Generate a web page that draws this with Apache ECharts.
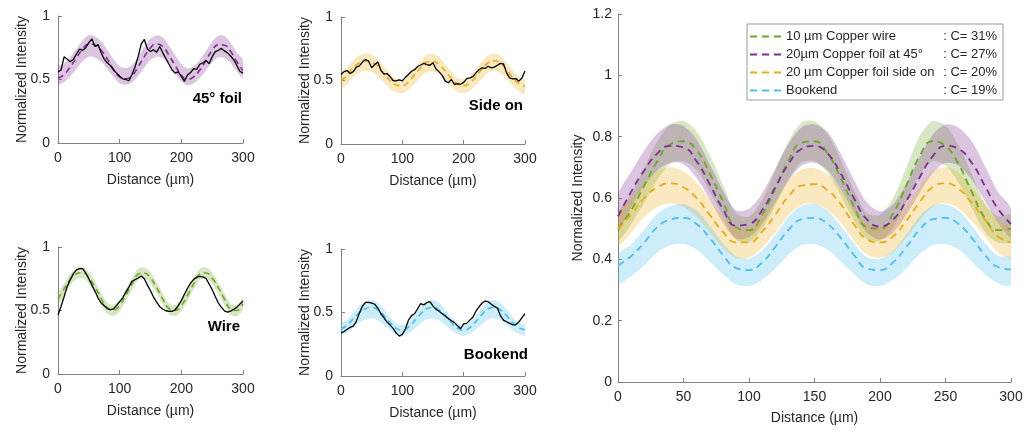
<!DOCTYPE html>
<html>
<head>
<meta charset="utf-8">
<title>Normalized intensity profiles</title>
<script src="https://cdn.jsdelivr.net/npm/echarts@6/dist/echarts.min.js"></script>
<style>
  html, body { margin: 0; padding: 0; background: #fff; }
  #chart { width: 1028px; height: 432px; }
</style>
</head>
<body>
<div id="chart"></div>
<script>
// ---- sampling grids (µm) ----
const distance10 = [0,10,20,30,40,50,60,70,80,90,100,110,120,130,140,150,160,170,180,190,200,210,220,230,240,250,260,270,280,290,300];
const distance5 = [0,5,10,15,20,25,30,35,40,45,50,55,60,65,70,75,80,85,90,95,100,105,110,115,120,125,130,135,140,145,150,155,160,165,170,175,180,185,190,195,200,205,210,215,220,225,230,235,240,245,250,255,260,265,270,275,280,285,290,295,300];

// ---- tick values ----
const smallXTicks = [0, 100, 200, 300];
const smallYTicks = [0, 0.5, 1];
const bigXTicks = [0, 50, 100, 150, 200, 250, 300];
const bigYTicks = [0, 0.2, 0.4, 0.6, 0.8, 1, 1.2];

// ---- 45° foil panel ----
const foilMeasured = [0.56,0.575,0.68,0.66,0.64,0.66,0.70,0.74,0.73,0.75,0.79,0.82,0.76,0.775,0.71,0.66,0.63,0.61,0.575,0.55,0.525,0.505,0.50,0.49,0.54,0.60,0.68,0.78,0.815,0.74,0.72,0.735,0.715,0.76,0.71,0.665,0.62,0.575,0.55,0.56,0.525,0.485,0.535,0.555,0.585,0.58,0.62,0.63,0.65,0.625,0.68,0.72,0.73,0.745,0.725,0.71,0.685,0.655,0.61,0.565,0.55];
const foilFit = [0.51,0.54,0.6,0.67,0.74,0.78,0.77,0.73,0.66,0.58,0.52,0.505,0.53,0.6,0.68,0.75,0.78,0.76,0.69,0.61,0.535,0.5,0.52,0.575,0.65,0.73,0.775,0.77,0.72,0.64,0.57];
const foilUpper = [0.6,0.625,0.68,0.745,0.81,0.848,0.84,0.8,0.735,0.66,0.605,0.59,0.615,0.68,0.755,0.82,0.848,0.83,0.765,0.69,0.62,0.588,0.605,0.655,0.725,0.8,0.845,0.84,0.79,0.715,0.65];
const foilLower = [0.46,0.48,0.525,0.585,0.645,0.68,0.672,0.64,0.58,0.52,0.47,0.458,0.476,0.53,0.595,0.655,0.68,0.665,0.61,0.545,0.485,0.455,0.47,0.512,0.57,0.635,0.675,0.672,0.63,0.565,0.51];

// ---- side on panel ----
const sideMeasured = [0.547,0.57,0.578,0.555,0.57,0.605,0.615,0.645,0.665,0.652,0.60,0.626,0.645,0.58,0.55,0.555,0.53,0.50,0.497,0.505,0.497,0.525,0.547,0.573,0.585,0.61,0.622,0.635,0.625,0.62,0.64,0.59,0.568,0.54,0.495,0.482,0.508,0.47,0.476,0.47,0.485,0.515,0.52,0.53,0.56,0.585,0.60,0.595,0.612,0.60,0.605,0.62,0.635,0.63,0.56,0.52,0.512,0.515,0.495,0.52,0.575];
const sideFit = [0.5,0.54,0.6,0.64,0.655,0.645,0.61,0.555,0.5,0.465,0.46,0.49,0.545,0.6,0.645,0.65,0.625,0.575,0.515,0.47,0.46,0.48,0.53,0.59,0.64,0.655,0.635,0.585,0.525,0.475,0.455];
const sideUpper = [0.555,0.595,0.657,0.698,0.715,0.705,0.668,0.61,0.553,0.515,0.51,0.542,0.6,0.657,0.705,0.71,0.684,0.63,0.568,0.52,0.51,0.532,0.585,0.647,0.698,0.715,0.694,0.64,0.578,0.525,0.505];
const sideLower = [0.435,0.47,0.525,0.562,0.575,0.566,0.532,0.482,0.435,0.405,0.4,0.427,0.475,0.525,0.566,0.57,0.548,0.503,0.45,0.41,0.4,0.418,0.462,0.515,0.562,0.575,0.556,0.512,0.458,0.415,0.395];

// ---- wire panel ----
const wireMeasured = [0.465,0.533,0.61,0.69,0.745,0.79,0.82,0.83,0.83,0.795,0.75,0.70,0.651,0.598,0.559,0.537,0.515,0.507,0.512,0.54,0.57,0.60,0.645,0.685,0.73,0.743,0.756,0.772,0.75,0.70,0.655,0.605,0.565,0.53,0.51,0.498,0.493,0.493,0.506,0.538,0.578,0.628,0.675,0.715,0.745,0.762,0.769,0.765,0.752,0.71,0.664,0.611,0.559,0.525,0.497,0.487,0.495,0.51,0.525,0.55,0.575];
const wireFit = [0.59,0.67,0.745,0.79,0.798,0.76,0.685,0.595,0.52,0.502,0.54,0.62,0.71,0.785,0.795,0.755,0.68,0.59,0.515,0.5,0.54,0.62,0.71,0.785,0.795,0.755,0.68,0.59,0.51,0.5,0.555];
const wireUpper = [0.635,0.715,0.79,0.835,0.843,0.805,0.73,0.638,0.562,0.545,0.584,0.665,0.755,0.83,0.84,0.8,0.725,0.633,0.557,0.543,0.584,0.665,0.755,0.83,0.84,0.8,0.725,0.633,0.553,0.543,0.598];
const wireLower = [0.545,0.625,0.7,0.745,0.753,0.715,0.64,0.55,0.475,0.457,0.495,0.575,0.665,0.74,0.75,0.71,0.635,0.545,0.47,0.455,0.495,0.575,0.665,0.74,0.75,0.71,0.635,0.545,0.465,0.455,0.51];

// ---- bookend panel ----
const bookMeasured = [0.34,0.35,0.368,0.383,0.393,0.43,0.495,0.55,0.58,0.58,0.573,0.565,0.535,0.49,0.46,0.425,0.401,0.375,0.338,0.314,0.328,0.37,0.44,0.475,0.49,0.53,0.57,0.56,0.578,0.586,0.55,0.525,0.51,0.49,0.472,0.452,0.435,0.42,0.395,0.372,0.41,0.414,0.44,0.462,0.51,0.545,0.575,0.59,0.585,0.565,0.548,0.535,0.475,0.44,0.427,0.415,0.402,0.405,0.425,0.46,0.49];
const bookFit = [0.37,0.4,0.45,0.5,0.53,0.54,0.52,0.475,0.42,0.375,0.36,0.385,0.435,0.49,0.53,0.54,0.52,0.475,0.42,0.375,0.36,0.38,0.43,0.485,0.53,0.54,0.52,0.475,0.42,0.38,0.365];
const bookUpper = [0.41,0.442,0.498,0.553,0.587,0.598,0.576,0.523,0.462,0.415,0.4,0.425,0.48,0.542,0.587,0.598,0.576,0.523,0.462,0.415,0.4,0.42,0.475,0.537,0.587,0.598,0.576,0.523,0.462,0.42,0.405];
const bookLower = [0.322,0.345,0.382,0.42,0.445,0.455,0.438,0.402,0.36,0.328,0.315,0.335,0.372,0.413,0.445,0.455,0.438,0.402,0.36,0.328,0.315,0.332,0.368,0.408,0.445,0.455,0.438,0.402,0.36,0.332,0.318];

// ---- combined panel: mean profiles and spread ----
const combWireMean = [0.50,0.56,0.64,0.72,0.775,0.785,0.755,0.68,0.59,0.505,0.495,0.545,0.63,0.72,0.78,0.785,0.745,0.665,0.575,0.505,0.5,0.55,0.64,0.735,0.785,0.77,0.71,0.62,0.535,0.495,0.5];
const combWireUpper = [0.548,0.612,0.698,0.784,0.84,0.85,0.818,0.74,0.645,0.55,0.54,0.593,0.688,0.784,0.845,0.85,0.808,0.724,0.627,0.55,0.545,0.6,0.698,0.8,0.85,0.835,0.772,0.678,0.583,0.54,0.545];
const combWireLower = [0.46,0.515,0.585,0.66,0.712,0.72,0.692,0.622,0.54,0.465,0.455,0.5,0.575,0.66,0.716,0.72,0.682,0.608,0.528,0.465,0.46,0.505,0.585,0.672,0.72,0.706,0.65,0.568,0.49,0.455,0.46];

const combFoilMean = [0.54,0.62,0.69,0.745,0.77,0.765,0.72,0.645,0.565,0.51,0.515,0.56,0.635,0.71,0.76,0.77,0.745,0.68,0.6,0.53,0.507,0.53,0.59,0.665,0.735,0.77,0.76,0.715,0.64,0.565,0.515];
const combFoilUpper = [0.61,0.685,0.755,0.81,0.84,0.835,0.79,0.71,0.625,0.56,0.565,0.615,0.695,0.775,0.83,0.84,0.815,0.745,0.66,0.585,0.557,0.58,0.645,0.73,0.805,0.84,0.83,0.785,0.705,0.62,0.565];
const combFoilLower = [0.49,0.57,0.64,0.69,0.715,0.71,0.665,0.595,0.52,0.468,0.472,0.515,0.585,0.655,0.705,0.715,0.69,0.63,0.555,0.487,0.465,0.487,0.545,0.615,0.68,0.715,0.705,0.66,0.59,0.52,0.472];

const combSideMean = [0.50,0.545,0.6,0.635,0.648,0.635,0.6,0.545,0.49,0.455,0.455,0.49,0.545,0.605,0.64,0.645,0.625,0.58,0.515,0.465,0.455,0.475,0.525,0.585,0.635,0.648,0.63,0.585,0.53,0.475,0.455];
const combSideUpper = [0.55,0.595,0.65,0.687,0.7,0.687,0.65,0.595,0.54,0.505,0.505,0.54,0.595,0.657,0.692,0.697,0.677,0.63,0.565,0.515,0.505,0.525,0.575,0.637,0.687,0.7,0.682,0.635,0.58,0.525,0.505];
const combSideLower = [0.445,0.487,0.538,0.571,0.583,0.571,0.538,0.487,0.438,0.405,0.405,0.438,0.487,0.543,0.576,0.58,0.562,0.52,0.461,0.415,0.405,0.423,0.47,0.525,0.571,0.583,0.566,0.525,0.476,0.423,0.405];

const combBookMean = [0.38,0.41,0.455,0.505,0.53,0.535,0.515,0.47,0.415,0.372,0.365,0.39,0.44,0.495,0.53,0.535,0.515,0.47,0.415,0.37,0.365,0.39,0.44,0.495,0.53,0.535,0.515,0.47,0.415,0.375,0.367];
const combBookUpper = [0.415,0.448,0.497,0.549,0.574,0.58,0.559,0.51,0.453,0.41,0.402,0.428,0.48,0.538,0.574,0.58,0.559,0.51,0.453,0.407,0.402,0.428,0.48,0.538,0.574,0.58,0.559,0.51,0.453,0.412,0.404];
const combBookLower = [0.323,0.345,0.38,0.423,0.446,0.45,0.432,0.393,0.352,0.319,0.313,0.333,0.37,0.415,0.446,0.45,0.432,0.393,0.352,0.318,0.313,0.333,0.37,0.415,0.446,0.45,0.432,0.393,0.352,0.322,0.315];

// ---- legend entries ----
const legendNames = ['10 µm Copper wire', '20µm Copper foil at 45°', '20 µm Copper foil side on', 'Bookend'];
const legendContrast = [': C= 31%', ': C= 27%', ': C= 20%', ': C= 19%'];
const panelLabels = ['45° foil', 'Side on', 'Wire', 'Bookend'];

// ---- styling ----
const FONT = '"Liberation Sans", Arial, Helvetica, sans-serif';
const TEXT = '#262626';
const AXIS = '#808080';
const PURPLE = '#7E2F8E', GREEN = '#6FA52B', ORANGE = '#E8AB1C', BLUE = '#4DBEEE';
const BAND_ALPHA = 0.28;

function rgba(hex, a) {
  const n = parseInt(hex.slice(1), 16);
  return `rgba(${(n >> 16) & 255},${(n >> 8) & 255},${n & 255},${a})`;
}
function pairs(xs, ys) { return xs.map((x, i) => [x, ys[i]]); }

function xAxisFor(gi, ticks, nameGap) {
  return {
    type: 'value', gridIndex: gi,
    min: ticks[0], max: ticks[ticks.length - 1], interval: ticks[1] - ticks[0],
    name: 'Distance (µm)', nameLocation: 'middle', nameGap: nameGap, nameMoveOverlap: false,
    nameTextStyle: { fontSize: 14, color: TEXT, fontFamily: FONT },
    axisLine: { show: true, onZero: false, lineStyle: { color: AXIS, width: 1 } },
    axisTick: { show: true, inside: true, length: 4, lineStyle: { color: AXIS } },
    axisLabel: { fontSize: 14, color: TEXT, fontFamily: FONT, margin: 8 },
    splitLine: { show: false }
  };
}
function yAxisFor(gi, ticks, nameGap, margin) {
  return {
    type: 'value', gridIndex: gi,
    min: ticks[0], max: ticks[ticks.length - 1], interval: ticks[1] - ticks[0],
    name: 'Normalized Intensity', nameLocation: 'middle', nameGap: nameGap, nameMoveOverlap: false,
    nameTextStyle: { fontSize: 14, color: TEXT, fontFamily: FONT },
    axisLine: { show: true, onZero: false, lineStyle: { color: AXIS, width: 1 } },
    axisTick: { show: true, inside: true, length: 4, lineStyle: { color: AXIS } },
    axisLabel: { fontSize: 14, color: TEXT, fontFamily: FONT, margin: margin },
    splitLine: { show: false }
  };
}

// shaded spread between a lower and an upper profile, as one filled polygon
function band(gi, xs, lower, upper, color) {
  return {
    type: 'custom', xAxisIndex: gi, yAxisIndex: gi, silent: true, z: 1, clip: true,
    data: pairs(xs, upper),
    renderItem: function (params, api) {
      if (params.dataIndex !== 0) return null;
      const top = xs.map((x, i) => api.coord([x, upper[i]]));
      const bottom = xs.map((x, i) => api.coord([x, lower[i]])).reverse();
      return {
        type: 'polygon',
        shape: { points: top.concat(bottom), smooth: 0.3 },
        style: { fill: rgba(color, BAND_ALPHA), stroke: null }
      };
    }
  };
}
function dashed(gi, xs, ys, color, name, width, dash) {
  return {
    type: 'line', name: name, xAxisIndex: gi, yAxisIndex: gi, data: pairs(xs, ys),
    smooth: true, symbol: 'none', z: 3, silent: true,
    itemStyle: { color: color },
    lineStyle: { color: color, width: width, type: dash }
  };
}
function measured(gi, xs, ys) {
  return {
    type: 'line', xAxisIndex: gi, yAxisIndex: gi, data: pairs(xs, ys),
    symbol: 'none', z: 4, silent: true,
    lineStyle: { color: '#000', width: 1.3 }
  };
}

const grids = [
  { left: 58, top: 16, width: 185, height: 127 },
  { left: 341, top: 17, width: 184, height: 127 },
  { left: 58, top: 247, width: 185, height: 127 },
  { left: 341, top: 249, width: 184, height: 127 },
  { left: 618, top: 14, width: 393, height: 368 }
].map(g => Object.assign({ containLabel: false, outerBoundsMode: 'none' }, g));

const series = [
  // small panels
  band(0, distance10, foilLower, foilUpper, PURPLE),
  dashed(0, distance10, foilFit, PURPLE, undefined, 1.6, [6, 4]),
  measured(0, distance5, foilMeasured),
  band(1, distance10, sideLower, sideUpper, ORANGE),
  dashed(1, distance10, sideFit, ORANGE, undefined, 1.6, [6, 4]),
  measured(1, distance5, sideMeasured),
  band(2, distance10, wireLower, wireUpper, GREEN),
  dashed(2, distance10, wireFit, GREEN, undefined, 1.6, [6, 4]),
  measured(2, distance5, wireMeasured),
  band(3, distance10, bookLower, bookUpper, BLUE),
  dashed(3, distance10, bookFit, BLUE, undefined, 1.6, [6, 4]),
  measured(3, distance5, bookMeasured),
  // combined panel
  band(4, distance10, combWireLower, combWireUpper, GREEN),
  band(4, distance10, combFoilLower, combFoilUpper, PURPLE),
  band(4, distance10, combSideLower, combSideUpper, ORANGE),
  band(4, distance10, combBookLower, combBookUpper, BLUE),
  dashed(4, distance10, combWireMean, GREEN, legendNames[0], 1.8, [7, 5]),
  dashed(4, distance10, combFoilMean, PURPLE, legendNames[1], 1.8, [7, 5]),
  dashed(4, distance10, combSideMean, ORANGE, legendNames[2], 1.8, [7, 5]),
  dashed(4, distance10, combBookMean, BLUE, legendNames[3], 1.8, [7, 5])
];

const labelPos = [
  { x: 242, y: 99 }, { x: 523, y: 106 }, { x: 240, y: 327 }, { x: 528, y: 355 }
];

const option = {
  animation: false,
  backgroundColor: '#fff',
  textStyle: { fontFamily: FONT },
  grid: grids,
  xAxis: [
    xAxisFor(0, smallXTicks, 30), xAxisFor(1, smallXTicks, 30),
    xAxisFor(2, smallXTicks, 30), xAxisFor(3, smallXTicks, 30),
    xAxisFor(4, bigXTicks, 29)
  ],
  yAxis: [
    yAxisFor(0, smallYTicks, 29, 8), yAxisFor(1, smallYTicks, 29, 8),
    yAxisFor(2, smallYTicks, 29, 8), yAxisFor(3, smallYTicks, 29, 8),
    yAxisFor(4, bigYTicks, 33, 6)
  ],
  legend: {
    data: legendNames,
    orient: 'vertical',
    left: 747, top: 24,
    padding: [6, 6, 3, 2],
    itemGap: 5,
    itemWidth: 31, itemHeight: 14,
    borderColor: '#9a9a9a', borderWidth: 1, borderRadius: 0,
    backgroundColor: '#fff',
    selectedMode: false,
    itemStyle: { opacity: 0 },
    textStyle: {
      fontSize: 13, color: TEXT, fontFamily: FONT,
      rich: {
        n: { width: 155, fontSize: 13, color: TEXT, fontFamily: FONT },
        c: { width: 56, align: 'right', fontSize: 13, color: TEXT, fontFamily: FONT }
      }
    },
    formatter: name => `{n|${name}}{c|${legendContrast[legendNames.indexOf(name)]}}`
  },
  graphic: panelLabels.map((t, i) => ({
    type: 'text', x: labelPos[i].x, y: labelPos[i].y, silent: true,
    style: { text: t, font: `bold 15px ${FONT}`, fill: '#000', align: 'right', verticalAlign: 'middle' }
  })),
  series: series
};

const chart = echarts.init(document.getElementById('chart'), null, { renderer: 'canvas' });
chart.setOption(option);
</script>
</body>
</html>
